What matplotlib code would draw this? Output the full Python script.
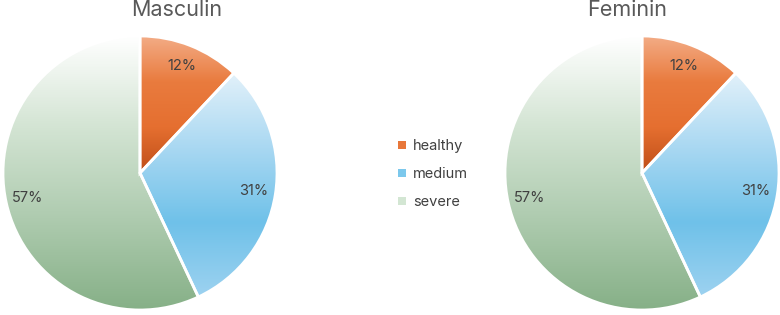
import numpy as np
import matplotlib
matplotlib.use("Agg")
from matplotlib import pyplot as plt
from matplotlib.colors import LinearSegmentedColormap
from matplotlib.patches import Patch

# Data
categories = ["healthy", "medium", "severe"]
masculin = [12, 31, 57]
feminin = [12, 31, 57]
titles = ["Masculin", "Feminin"]

# gradient stops for each slice (top -> bottom)
grads = [
    ["#F3AC86", "#E97B3E", "#E56F30", "#BF4E18"],
    ["#E2F1FA", "#A9D8F2", "#6FC1E9", "#9DD2F0"],
    ["#FFFFFF", "#D3E4D3", "#AECBAF", "#86B087"],
]
legend_cols = ["#E8773A", "#7CC8EC", "#D3E6D3"]

plt.rcParams['font.family'] = ['Inter', 'DejaVu Sans']

fig = plt.figure(figsize=(7.8, 3.15), dpi=100)

W, H = 780, 315
R = 137
centers = [(140, 173), (642, 173)]
title_x = [177, 627]

def gradient_pie(ax, vals):
    wedges, texts, autotexts = ax.pie(
        vals, startangle=90, counterclock=False,
        autopct='%1.0f%%', pctdistance=0.84,
        wedgeprops=dict(edgecolor='white', linewidth=2),
        textprops=dict(color='#404040', fontsize=10.5))
    for w, stops in zip(wedges, grads):
        ext = w.get_path().get_extents()
        cmap = LinearSegmentedColormap.from_list('g', stops)
        grad = np.linspace(0, 1, 256).reshape(-1, 1)
        im = ax.imshow(grad, cmap=cmap, aspect='auto',
                       extent=[ext.x0, ext.x1, ext.y0, ext.y1],
                       origin='upper', zorder=w.get_zorder() - 0.1)
        im.set_clip_path(w)
        w.set_facecolor('none')
    for t in autotexts:
        t.set_zorder(5)
    ax.set_xlim(-1, 1)
    ax.set_ylim(-1, 1)
    ax.set_aspect('auto')
    ax.axis('off')

for (cx, cy), vals, title, tx in zip(centers, [masculin, feminin], titles, title_x):
    ax = fig.add_axes([(cx - R) / W, (H - cy - R) / H, 2 * R / W, 2 * R / H])
    gradient_pie(ax, vals)
    fig.text(tx / W, 1 - 10 / H, title, ha='center', va='center',
             fontsize=15.5, color='#595959')

handles = [Patch(facecolor=c, edgecolor='none') for c in legend_cols]
fig.legend(handles, categories, loc='center', bbox_to_anchor=(433 / W, 1 - 174 / H),
           frameon=False, fontsize=10.5, labelcolor='#404040',
           handlelength=0.5, handleheight=0.5, handletextpad=0.5,
           labelspacing=0.95)

fig.savefig("out.png", dpi=100)
